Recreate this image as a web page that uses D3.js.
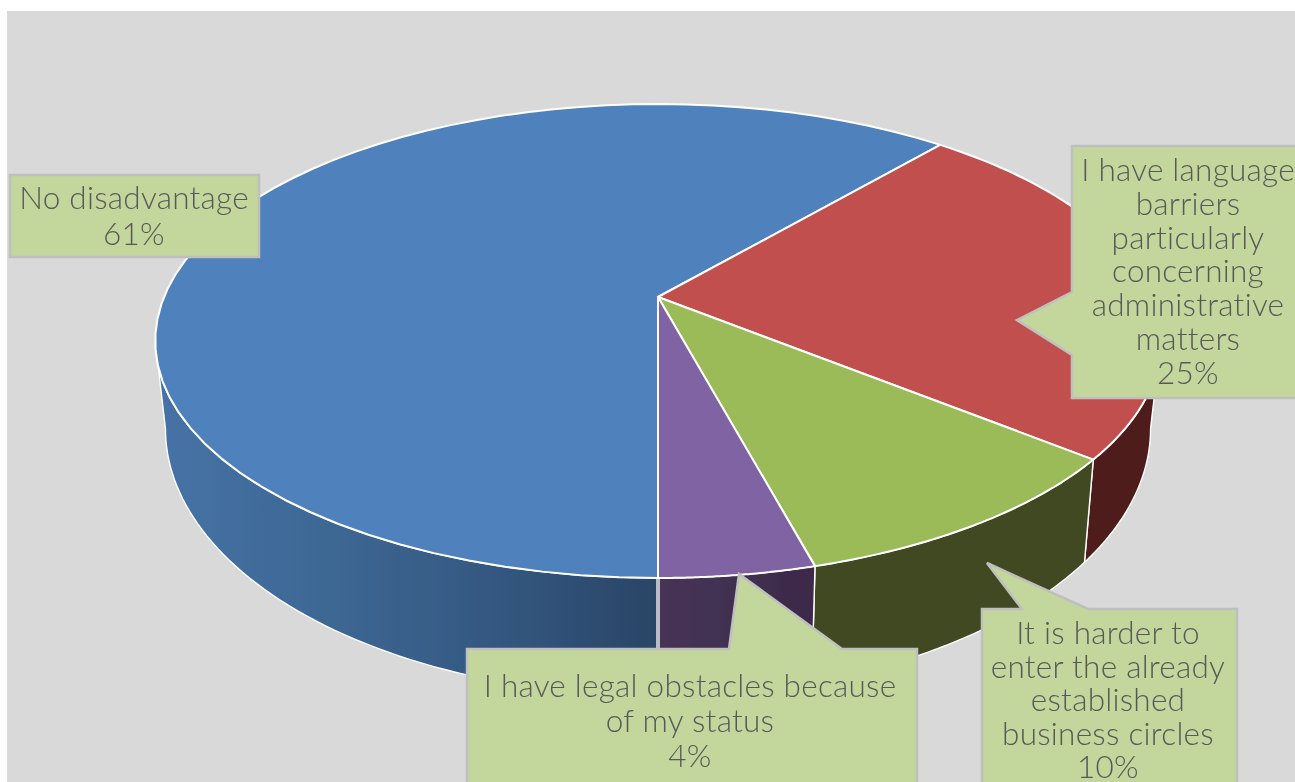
<!DOCTYPE html>
<html><head><meta charset="utf-8">
<script src="https://cdn.jsdelivr.net/npm/d3@7/dist/d3.min.js"></script>
<style>html,body{margin:0;padding:0;background:#fff;overflow:hidden}svg{display:block}</style>
</head><body><svg id="c" width="1295" height="782"></svg>
<script>
const categories=["No disadvantage","I have language barriers particularly concerning administrative matters","It is harder to enter the already established business circles","I have legal obstacles because of my status"];
const values=[61.3,24.5,10,4.2];
const faceColors=["#4f81bd","#c0504d","#9bbb59","#8064a2"];
const sideColors=["url(#blueSide)","#4f1f1e","#3f4a20","url(#purpleSide)"];
const labelLines=[["No disadvantage"],["I have language","barriers","particularly","concerning","administrative","matters"],["It is harder to","enter the already","established","business circles"],["I have legal obstacles because","of my status"]];
const percentLabels=["61%","25%","10%","4%"];

const W=1295,H=782;
const svg=d3.select("#c");
const defs=svg.append("defs");
defs.append("filter").attr("id","soft").attr("x",0).attr("y",0).attr("width",1).attr("height",1)
  .append("feGaussianBlur").attr("stdDeviation",0.6);
const lg=(id,x1,x2,stops)=>{const g=defs.append("linearGradient").attr("id",id).attr("gradientUnits","userSpaceOnUse").attr("x1",x1).attr("x2",x2).attr("y1",0).attr("y2",0);
  stops.forEach(s=>g.append("stop").attr("offset",s[0]).attr("stop-color",s[1]));};
lg("blueSide",160,658,[[0,"#4672a6"],[0.35,"#3d6793"],[0.7,"#33567f"],[1,"#2a4566"]]);
lg("purpleSide",658,815,[[0,"#463456"],[1,"#3c2a4a"]]);

svg.append("rect").attr("width",W).attr("height",H).attr("fill","#fff");
const root=svg.append("g").attr("filter","url(#soft)");
root.append("rect").attr("x",7).attr("y",11).attr("width",W-7).attr("height",H-11).attr("fill","#d9d9d9");

// perspective projection of the pie's top and bottom discs
const persp=0.1857;
const topDisc={cx:658,cy:297,b:494,a:228.8};
const botDisc={cx:658,cy:379,b:484,a:258};
const project=(disc,t)=>{const x=Math.sin(t),y=Math.cos(t),w=1+persp*y;return [disc.cx+disc.b*x/w,disc.cy-disc.a*y/w];};
const arcs=d3.pie().sort(null).startAngle(Math.PI).endAngle(3*Math.PI)(values);
const samples=(a0,a1)=>d3.range(0,61).map(i=>a0+(a1-a0)*i/60);
const line=d3.line();

// sides: visible between the two silhouette tangents of the cylinder
const frontMin=Math.PI/2+Math.asin(persp),frontMax=3*Math.PI/2-Math.asin(persp);
[0,1,2,3].forEach(i=>{
  const d=arcs[i];
  let a0=d.startAngle,a1=d.endAngle;
  if(a0>=2*Math.PI){a0-=2*Math.PI;a1-=2*Math.PI;}
  const lo=Math.max(a0,frontMin),hi=Math.min(a1,frontMax);
  if(hi<=lo)return;
  const s=samples(lo,hi);
  const pts=s.map(t=>project(topDisc,t)).concat(s.slice().reverse().map(t=>project(botDisc,t)));
  root.append("path").attr("d",line(pts)+"Z").attr("fill",sideColors[i]).attr("stroke","#fff").attr("stroke-width",1.4).attr("stroke-linejoin","round");
});
// seam between blue and purple sides
root.append("path").attr("d",line([project(topDisc,Math.PI),project(botDisc,Math.PI)])).attr("stroke","#b9bcc6").attr("stroke-width",4).attr("fill","none");

// top faces
arcs.forEach((d,i)=>{
  const rim=samples(d.startAngle,d.endAngle).map(t=>project(topDisc,t));
  const pts=[[topDisc.cx,topDisc.cy]].concat(rim);
  root.append("path").attr("d",line(pts)+"Z").attr("fill",faceColors[i]).attr("stroke","#fff").attr("stroke-width",2).attr("stroke-linejoin","round");
});

// callouts
const callouts=[
  {x:10,y:175,w:249,h:82,tip:null,tx:134,base:209,step:36},
  {x:1072,y:146,w:240,h:252,tip:{side:"left",p:[1017,320],a:292,b:355},tx:1188,base:181,step:33.8},
  {x:982,y:609,w:255,h:190,tip:{side:"top",p:[987,563],a:1022,b:1088},tx:1108,base:644,step:33.6},
  {x:467,y:649,w:450,h:150,tip:{side:"top",p:[739,574],a:729,b:842},tx:690,base:697,step:35}
];
callouts.forEach((c,i)=>{
  const r=c.x+c.w,b=c.y+c.h;let pts;
  if(!c.tip)pts=[[c.x,c.y],[r,c.y],[r,b],[c.x,b]];
  else if(c.tip.side==="left")pts=[[c.x,c.y],[r,c.y],[r,b],[c.x,b],[c.x,c.tip.b],c.tip.p,[c.x,c.tip.a]];
  else pts=[[c.x,c.y],[c.tip.a,c.y],c.tip.p,[c.tip.b,c.y],[r,c.y],[r,b],[c.x,b]];
  root.append("path").attr("d",line(pts)+"Z").attr("fill","#c3d69b").attr("stroke","#bfbfbf").attr("stroke-width",2.5).attr("stroke-linejoin","miter");
  const lines=labelLines[i].concat([percentLabels[i]]);
  root.append("g").selectAll("text").data(lines).join("text")
    .attr("x",c.tx).attr("y",(d,j)=>c.base+j*c.step)
    .attr("text-anchor","middle").attr("fill","#595959")
    .style("font-family","Lato, 'Open Sans', sans-serif").style("font-weight",300).style("font-size","31.5px").style("letter-spacing","0.25px")
    .text(d=>d);
});
</script></body></html>
